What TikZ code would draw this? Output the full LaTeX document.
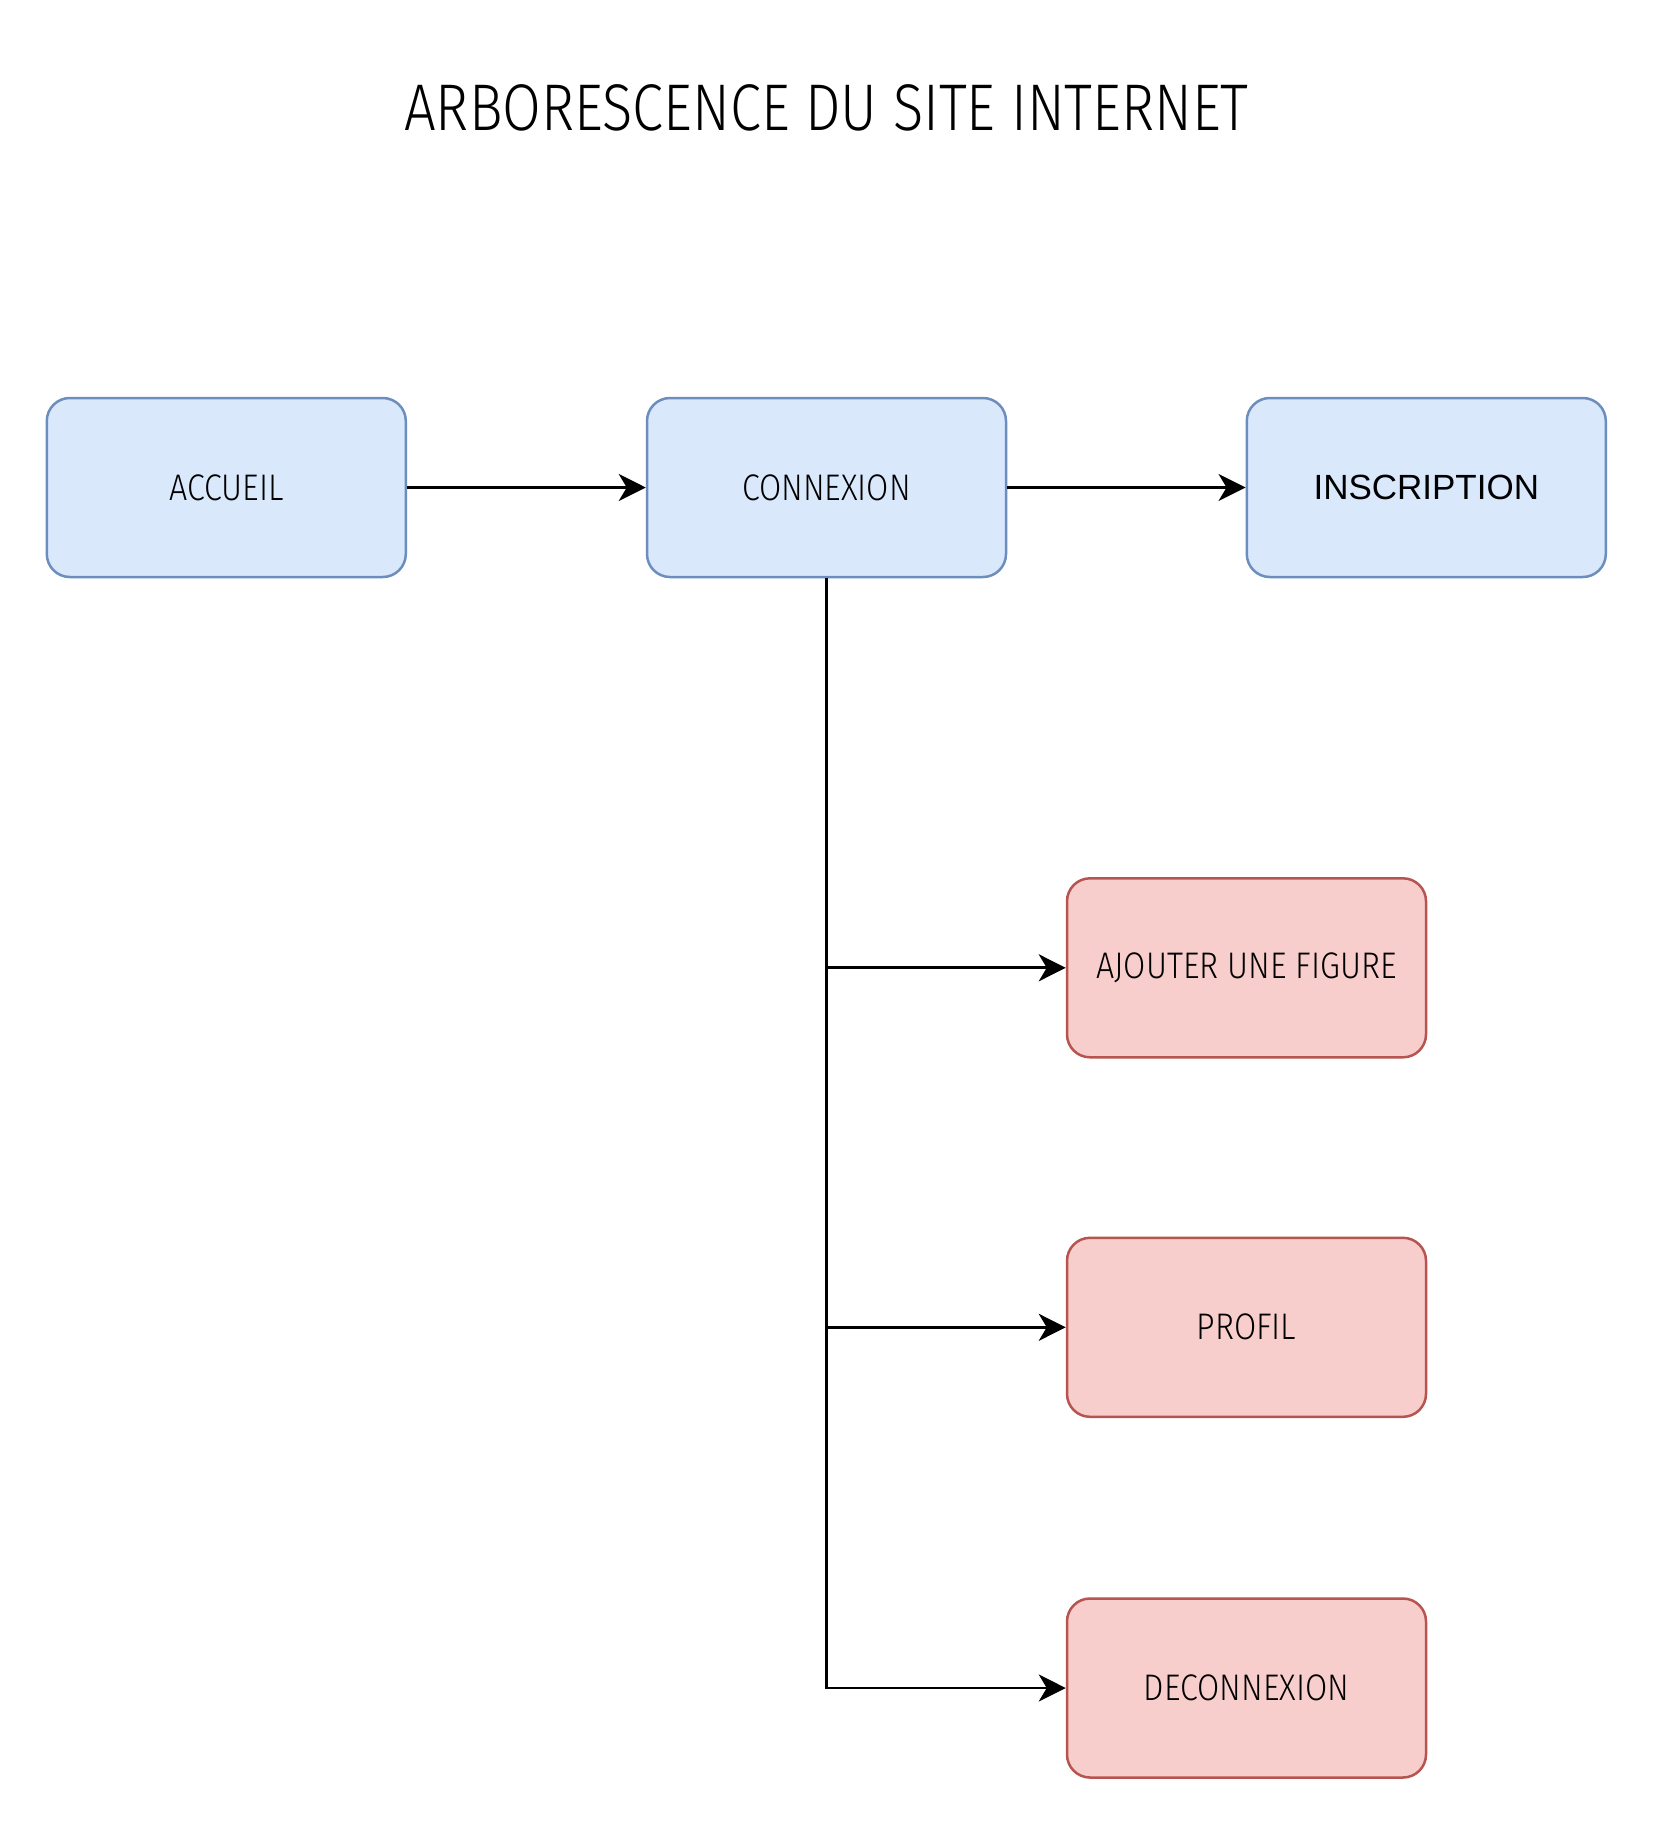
\documentclass[tikz,border=0pt]{standalone}
\usepackage{fontspec}
\newfontfamily\abel[FakeStretch=0.87]{Fira Sans Light}
\newfontfamily\abeltitle[FakeStretch=0.85]{Fira Sans Light}
\newfontfamily\arialf{Liberation Sans}
\usetikzlibrary{arrows.meta}
\definecolor{bluefill}{HTML}{DAE8FC}
\definecolor{bluedraw}{HTML}{6C8EBF}
\definecolor{redfill}{HTML}{F8CECC}
\definecolor{reddraw}{HTML}{B85450}
\tikzset{
  boxbase/.style={rectangle, rounded corners=23pt, minimum width=359pt, minimum height=179pt, line width=2.5pt, inner sep=0pt, font=\abel\fontsize{37}{40}\selectfont},
  bluebox/.style={boxbase, fill=bluefill, draw=bluedraw},
  redbox/.style={boxbase, fill=redfill, draw=reddraw},
  conn/.style={line width=2.8pt, -{Stealth[length=27pt,width=27pt,inset=8pt]}},
}
\begin{document}
\begin{tikzpicture}[x=1pt,y=-1pt]
\useasboundingbox (0,0) rectangle (1653,1824);
\fill[white] (0,0) rectangle (1653,1824);
\node[font=\abeltitle\fontsize{66}{70}\selectfont] (title) at (826.5,108) {ARBORESCENCE DU SITE INTERNET};
\node[bluebox] (acc) at (226.3,487.5) {ACCUEIL};
\node[bluebox] (cnx) at (826.5,487.5) {CONNEXION};
\node[bluebox, font=\arialf\fontsize{35}{38}\selectfont] (ins) at (1426.3,487.5) {INSCRIPTION};
\node[redbox] (fig) at (1246.5,967.8) {AJOUTER UNE FIGURE};
\node[redbox] (pro) at (1246.5,1327.3) {PROFIL};
\node[redbox] (dec) at (1246.5,1688) {DECONNEXION};
\draw[conn] (acc.east) -- (cnx.west);
\draw[conn] (cnx.east) -- (ins.west);
\draw[conn] (cnx.south) |- (dec.west);
\draw[conn] (cnx.south |- fig.west) -- (fig.west);
\draw[conn] (cnx.south |- pro.west) -- (pro.west);
\end{tikzpicture}
\end{document}
